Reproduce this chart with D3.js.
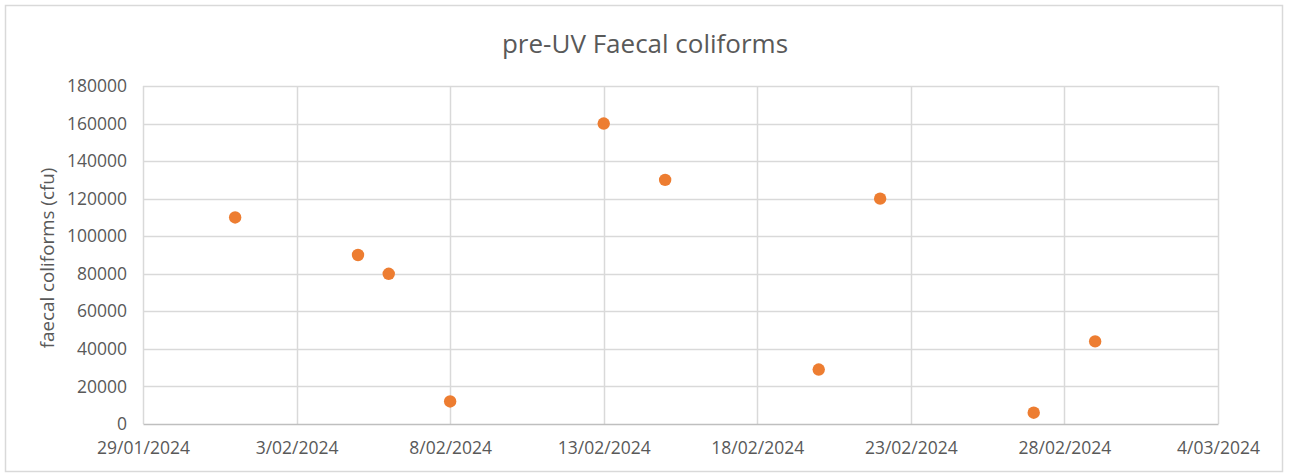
<!DOCTYPE html>
<html>
<head>
<meta charset="utf-8">
<script src="https://cdn.jsdelivr.net/npm/d3@7"></script>
<style>
  html, body { margin: 0; padding: 0; background: #fff; }
  svg { display: block; }
  text { font-family: "Open Sans", "Liberation Sans", sans-serif; fill: #595959; }
</style>
</head>
<body>
<svg id="chart" width="1289" height="473"></svg>
<script>
// ---- data ----
const dates = ["2024-02-01","2024-02-05","2024-02-06","2024-02-08","2024-02-13","2024-02-15","2024-02-20","2024-02-22","2024-02-27","2024-02-29"];
const coliforms = [110000, 90000, 80000, 12000, 160000, 130000, 29000, 120000, 6000, 44000];
const xTickLabels = ["29/01/2024","3/02/2024","8/02/2024","13/02/2024","18/02/2024","23/02/2024","28/02/2024","4/03/2024"];
const yTicks = [0, 20000, 40000, 60000, 80000, 100000, 120000, 140000, 160000, 180000];
const chartTitle = "pre-UV Faecal coliforms";
const yTitle = "faecal coliforms (cfu)";

const parse = d3.timeParse("%Y-%m-%d");
const data = dates.map((d, i) => ({ date: parse(d), value: coliforms[i] }));
const xStart = parse("2024-01-29"), xEnd = parse("2024-03-04");
const xTickDates = d3.timeDay.range(xStart, d3.timeDay.offset(xEnd, 1), 5);

const svg = d3.select("#chart");
const plot = { left: 143, right: 1218, top: 86, bottom: 424 };

// outer chart border
svg.append("rect").attr("x", 5.5).attr("y", 5.5).attr("width", 1277).attr("height", 466)
  .attr("fill", "#fff").attr("stroke", "#d9d9d9").attr("stroke-width", 1.5);

const x = d3.scaleTime().domain([xStart, xEnd]).range([plot.left, plot.right]);
const y = d3.scaleLinear().domain([0, 180000]).range([plot.bottom, plot.top]);

// horizontal gridlines
svg.append("g").selectAll("line").data(yTicks.filter(d => d > 0)).join("line")
  .attr("x1", plot.left).attr("x2", plot.right)
  .attr("y1", d => Math.round(y(d)) + 0.5).attr("y2", d => Math.round(y(d)) + 0.5)
  .attr("stroke", "#d9d9d9").attr("stroke-width", 1.5);

// vertical gridlines
svg.append("g").selectAll("line").data(xTickDates).join("line")
  .attr("x1", d => Math.round(x(d)) + 0.5).attr("x2", d => Math.round(x(d)) + 0.5)
  .attr("y1", plot.top).attr("y2", plot.bottom)
  .attr("stroke", "#d9d9d9").attr("stroke-width", 1.5);

// x axis
const fmt = d => xTickLabels[xTickDates.findIndex(t => +t === +d)];
const xAxis = svg.append("g").attr("transform", `translate(0,${plot.bottom})`)
  .call(d3.axisBottom(x).tickValues(xTickDates).tickFormat(fmt).tickSize(0).tickPadding(18));
xAxis.select(".domain").attr("stroke", "#bfbfbf").attr("stroke-width", 1.5);
xAxis.selectAll("text").style("font-size", "17.5px").attr("fill", "#595959");

// y axis
const yAxis = svg.append("g").attr("transform", `translate(${plot.left},0)`)
  .call(d3.axisLeft(y).tickValues(yTicks).tickFormat(d3.format("d")).tickSize(0).tickPadding(16));
yAxis.select(".domain").remove();
yAxis.selectAll("text").style("font-size", "17.5px").attr("fill", "#595959");

// points
svg.append("g").selectAll("circle").data(data).join("circle")
  .attr("cx", d => x(d.date)).attr("cy", d => y(d.value)).attr("r", 6.2)
  .attr("fill", "#ED7D31");

// title
svg.append("text").attr("x", 645).attr("y", 53).attr("text-anchor", "middle")
  .style("font-size", "26px").text(chartTitle);

// y title
svg.append("text").attr("transform", "translate(54,258) rotate(-90)")
  .attr("text-anchor", "middle").style("font-size", "18.8px").text(yTitle);
</script>
</body>
</html>
